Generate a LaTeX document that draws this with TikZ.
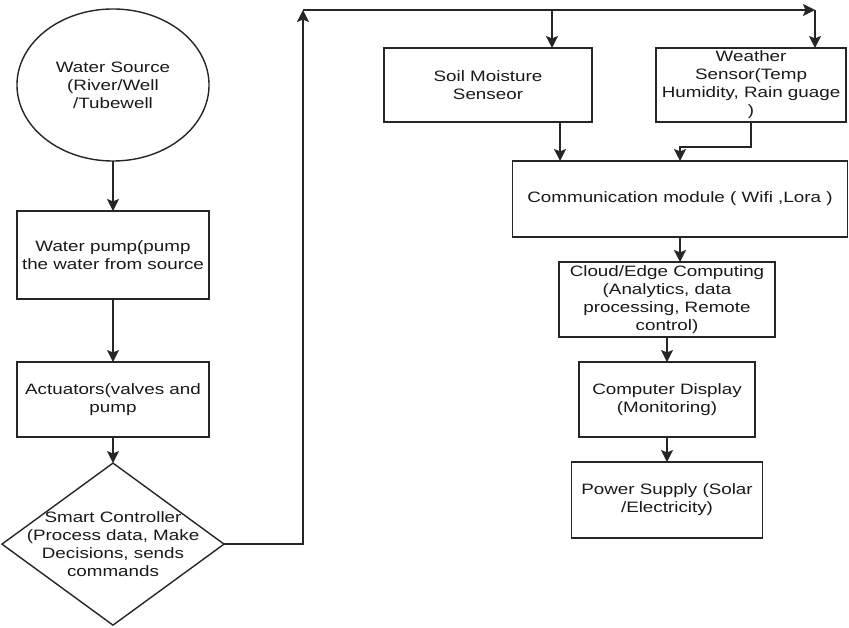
\documentclass[tikz,border=0pt]{standalone}
\usepackage{fontspec}
\setmainfont{Liberation Sans}[FakeStretch=1.25]
\usetikzlibrary{arrows.meta, positioning, shapes.geometric, calc}

\begin{document}
\begin{tikzpicture}[x=0.025cm, y=-0.025cm,
    lbl/.style={align=center, text=black!90,
      font=\fontsize{10.7}{12.8}\selectfont},
    box/.style={rectangle, draw=black!85, line width=1pt, lbl,
      inner sep=0pt, outer sep=0pt},
    src/.style={ellipse, draw=black!85, line width=1pt, lbl,
      minimum width=4.8cm, minimum height=3.8cm, inner sep=0pt, outer sep=0pt},
    dec/.style={diamond, draw=black!85, line width=1pt,
      minimum width=5.55cm, minimum height=4.05cm, inner sep=0pt, outer sep=0pt},
    arrow/.style={line width=1pt, draw=black!85,
      -{Stealth[length=0.3cm, width=0.3cm, inset=0.06cm]}}
]
\useasboundingbox (0,0) rectangle (849,628);

%% Colonne gauche : source -> pompe -> actionneurs -> controleur
\node[src] (source) at (113,85) {Water Source\\(River/Well\\/Tubewell};
\node[box, minimum width=4.8cm, minimum height=2.2cm, below=1.25cm of source] (pump)
  {Water pump(pump\\the water from source};
\node[box, minimum width=4.8cm, minimum height=1.875cm, below=1.575cm of pump] (act)
  {Actuators(valves and\\pump};
\node[dec, below=0.65cm of act,
  label={[lbl]center:Smart Controller\\(Process data, Make\\Decisions, sends\\commands}] (ctrl) {};
\draw[arrow] (source) -- (pump);
\draw[arrow] (pump) -- (act);
\draw[arrow] (act) -- (ctrl);

%% Colonne droite : capteurs -> communication -> cloud -> affichage
\node[box, minimum width=5.2cm, minimum height=1.85cm] (soil) at (488,85)
  {Soil Moisture\\Senseor};
\node[box, minimum width=4.75cm, minimum height=1.85cm, right=1.6cm of soil] (wthr)
  {Weather\\Sensor(Temp\\Humidity, Rain guage\\)};
\node[box, minimum width=8.375cm, minimum height=1.9cm] (comm) at (680,199)
  {Communication module ( Wifi ,Lora )};
\node[box, minimum width=5.4cm, minimum height=1.875cm] (cloud) at (667,299.5)
  {Cloud/Edge Computing\\(Analytics, data\\processing, Remote\\control)};
\node[box, minimum width=4.4cm, minimum height=1.875cm, below=0.625cm of cloud] (disp)
  {Computer Display\\(Monitoring)};
\node[box, minimum width=4.775cm, minimum height=1.9cm, below=0.625cm of disp] (power)
  {Power Supply (Solar\\/Electricity)};

%% Liaison du controleur vers les capteurs
\coordinate (tl) at (303,10);
\coordinate (stap) at (552,10);
\coordinate (wtap) at (815,10);
\coordinate (sout) at ([xshift=-0.8cm]soil.south east);
\coordinate (cin) at (680,262);
\draw[arrow] (ctrl.east) -| (tl);
\draw[arrow] (tl) -- (wtap);
\draw[arrow] (stap) -- (stap |- soil.north);
\draw[arrow] (wtap) -- (wtap |- wthr.north);

\draw[arrow] (sout) -- (sout |- comm.north);
\draw[arrow] (wthr.south) -- ++(0cm,-0.625cm) -| (comm.north);
\draw[arrow] (comm.south) -- (cin);
\draw[arrow] (cloud) -- (disp);
\draw[arrow] (disp) -- (power);
\end{tikzpicture}
\end{document}
